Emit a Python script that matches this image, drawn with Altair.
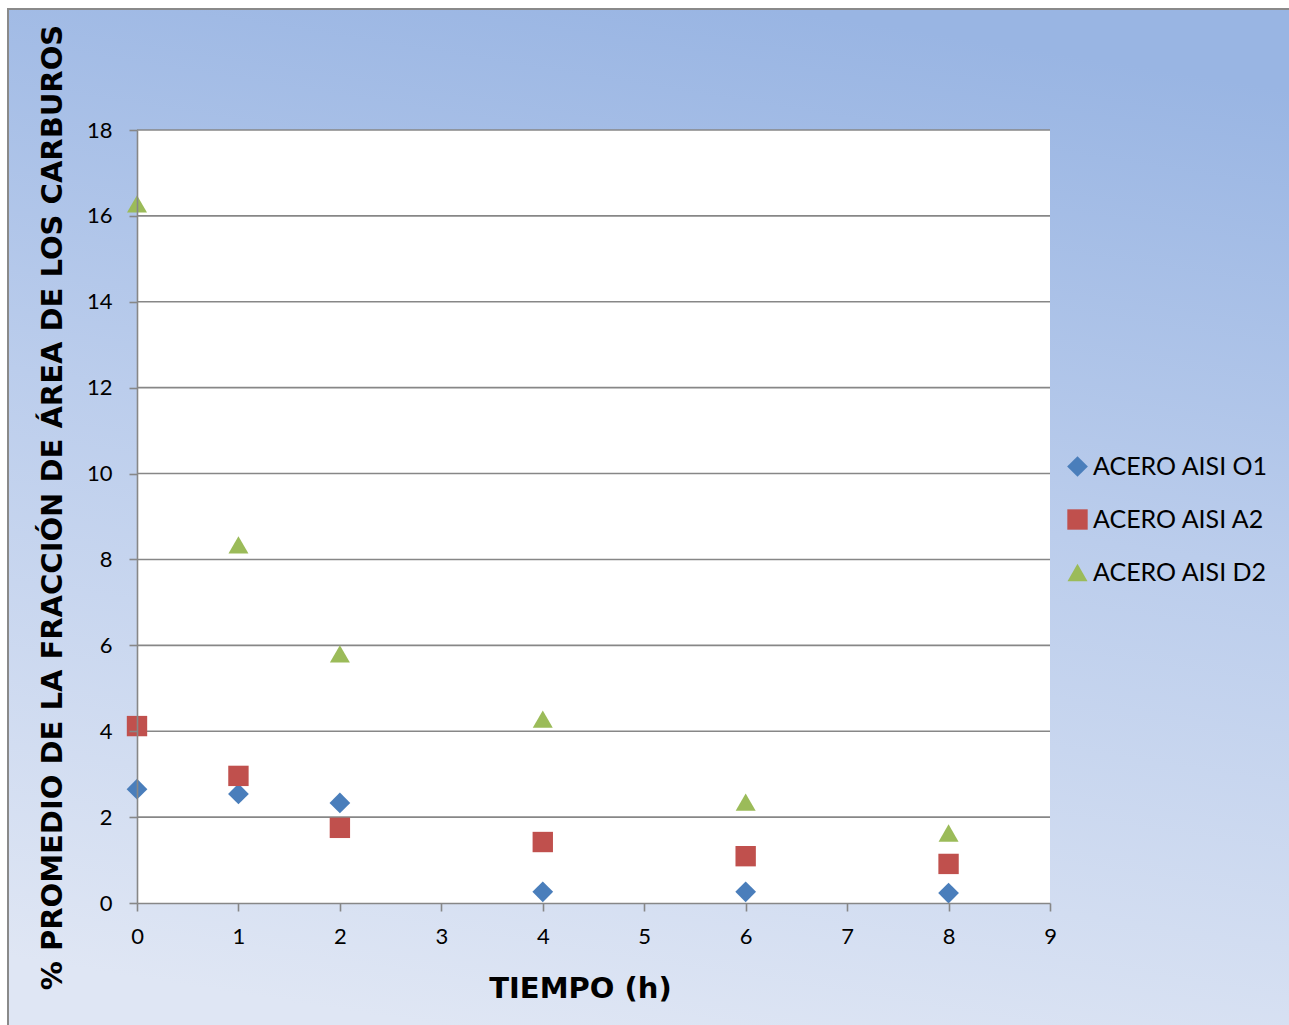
import altair as alt
import pandas as pd

tiempo = [0, 1, 2, 4, 6, 8]
o1 = [2.65, 2.54, 2.33, 0.26, 0.26, 0.23]
a2 = [4.12, 2.96, 1.75, 1.42, 1.09, 0.91]
d2 = [16.28, 8.34, 5.80, 4.28, 2.35, 1.63]
series = ["ACERO AISI O1", "ACERO AISI A2", "ACERO AISI D2"]
colors = ["#4A7EBB", "#C0504D", "#9BBB59"]
shapes = ["diamond", "square", "triangle-up"]
marker_sizes = [430, 400, 600]
grid_vals = [2, 4, 6, 8, 10, 12, 14, 16, 18]

rows = []
for name, vals in zip(series, [o1, a2, d2]):
    for t, v in zip(tiempo, vals):
        rows.append({"t": t, "v": v, "s": name})
df = pd.DataFrame(rows)

W, H = 913, 773
PL, PT, PR, PB = 137, 130, 239, 122

one = pd.DataFrame({"a": [0]})

yaxis = alt.Axis(values=list(range(0, 19, 2)),
                 title="% PROMEDIO DE LA FRACCIÓN DE ÁREA DE LOS CARBUROS",
                 grid=False, zindex=1, tickSize=8,
                 domainColor="#878787", tickColor="#878787",
                 domainWidth=1.6, tickWidth=1.6,
                 labelFont="Lato", labelFontSize=22, labelColor="black",
                 labelPadding=17, labelFlush=False,
                 titleFont="DejaVu Sans", titleFontSize=29, titleFontWeight="bold",
                 titleColor="black", titleX=-85, titleY=377,
                 titleBaseline="middle", titleAlign="center",
                 titleAngle=270)
yscale = alt.Scale(domain=[0, 18], nice=False)

bg = alt.Chart(one).mark_rect(
    fill=alt.Gradient(
        gradient="linear",
        stops=[alt.GradientStop(color="#99B5E3", offset=0),
               alt.GradientStop(color="#BBCDEC", offset=0.45),
               alt.GradientStop(color="#DFE6F4", offset=1)],
        x1=0.6, x2=0.4, y1=0, y2=1),
    stroke="#8A8A8A", strokeWidth=2
).encode(x=alt.value(8 - PL), x2=alt.value(1300 - PL),
         y=alt.value(9 - PT), y2=alt.value(1040 - PT))

plot_bg = alt.Chart(one).mark_rect(fill="white").encode(
    x=alt.value(0), x2=alt.value(W), y=alt.value(0), y2=alt.value(H))

grid = alt.Chart(pd.DataFrame({"v": grid_vals})).mark_rule(
    color="#878787", strokeWidth=1.6
).encode(y=alt.Y("v:Q", scale=yscale, axis=yaxis))

pts = alt.Chart(df).mark_point(filled=True, opacity=1).encode(
    x=alt.X("t:Q", scale=alt.Scale(domain=[0, 9], nice=False),
            axis=alt.Axis(values=list(range(10)), title="TIEMPO (h)",
                          grid=False, zindex=1, tickSize=8,
                          domainColor="#878787", tickColor="#878787",
                          domainWidth=1.6, tickWidth=1.6,
                          labelFont="Lato", labelFontSize=22, labelColor="black",
                          labelPadding=15, labelFlush=False,
                          titleFont="DejaVu Sans", titleFontSize=29,
                          titleFontWeight="bold",
                          titleColor="black", titleX=443, titleY=85,
                          titleBaseline="middle", titleAlign="center")),
    y=alt.Y("v:Q", scale=yscale, axis=yaxis),
    color=alt.Color("s:N", scale=alt.Scale(domain=series, range=colors),
                    legend=alt.Legend(title=None, orient="none",
                                      legendX=928, legendY=324,
                                      labelFont="Lato", labelFontSize=25,
                                      labelColor="black", symbolSize=340,
                                      symbolStrokeWidth=0, rowPadding=27,
                                      labelOffset=3, labelLimit=400)),
    shape=alt.Shape("s:N", scale=alt.Scale(domain=series, range=shapes)),
    size=alt.Size("s:N", scale=alt.Scale(domain=series, range=marker_sizes),
                  legend=None),
)

chart = alt.layer(bg, plot_bg, grid, pts).properties(
    width=W, height=H,
    autosize=alt.AutoSizeParams(type="none"),
    padding={"left": PL, "top": PT, "right": PR, "bottom": PB},
    background="white",
).configure_view(stroke=None)

chart.save("out.html", embed_options={"renderer": "svg", "actions": False})
